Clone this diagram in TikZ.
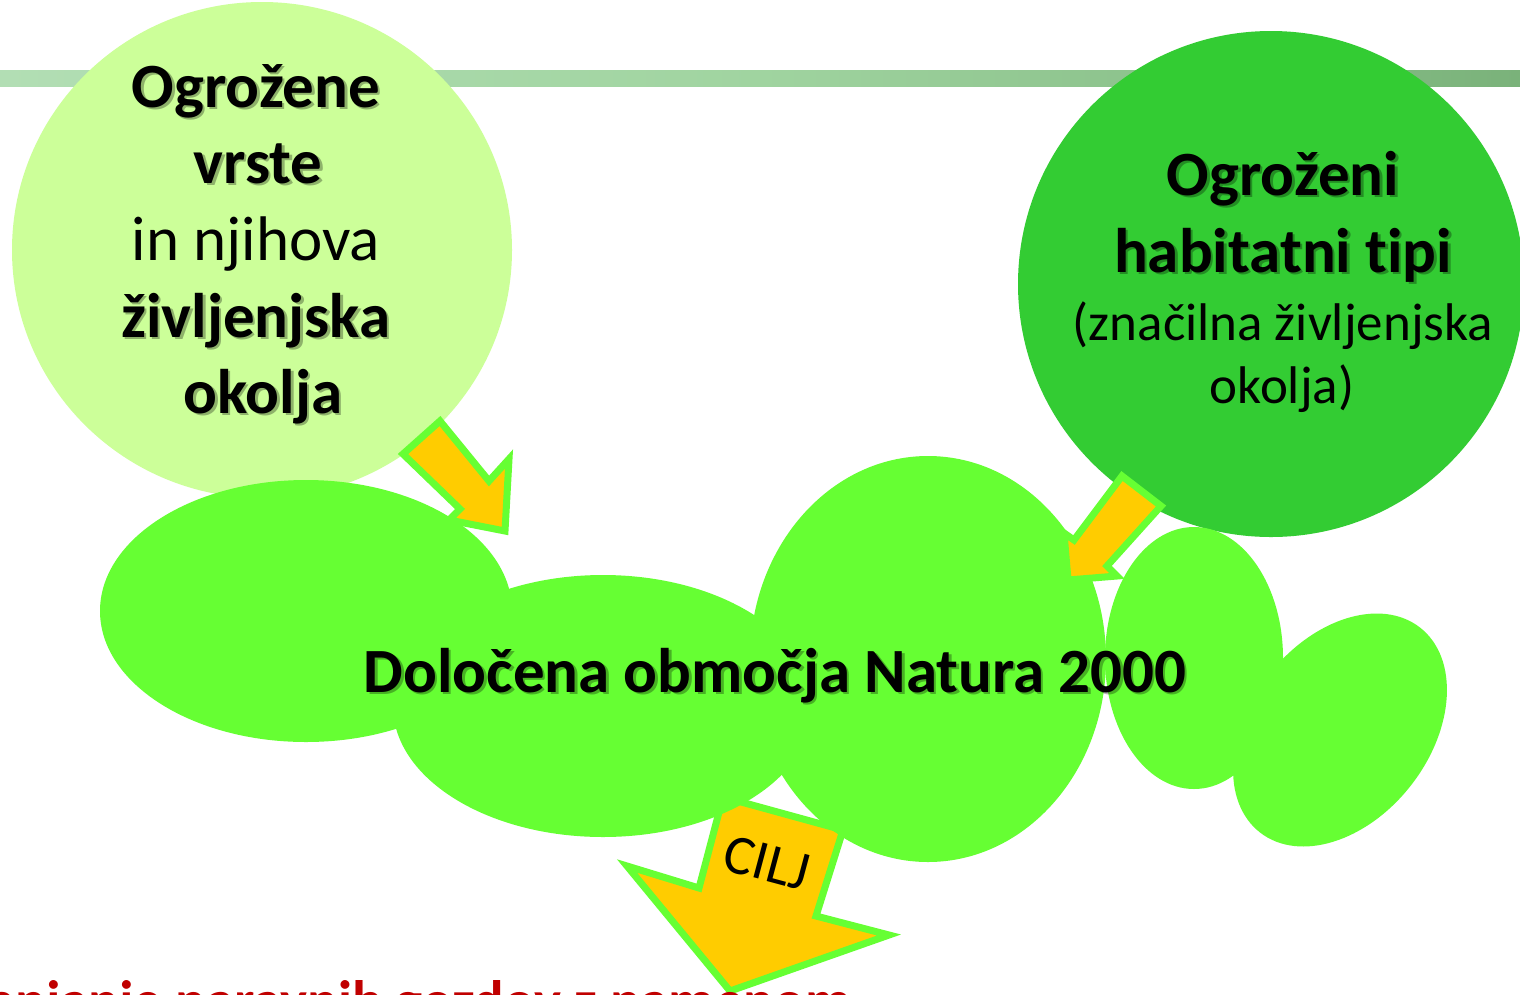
\documentclass[tikz,border=0pt]{standalone}
\usepackage{fontspec}
\setmainfont{Carlito}[Ligatures={NoCommon}]
\definecolor{lightC}{HTML}{CCFF99}
\definecolor{darkC}{HTML}{33CC33}
\definecolor{ellG}{HTML}{66FF33}
\definecolor{arrY}{HTML}{FFCC00}
\definecolor{redT}{HTML}{C00000}
\definecolor{bandL}{RGB}{178,222,180}
\definecolor{bandM}{RGB}{160,212,160}
\definecolor{bandR}{RGB}{122,178,122}
\tikzset{
  blob/.style={fill=ellG},
  blockarrow/.style={fill=arrY, draw=ellG, line width=7pt, line join=miter},
  boldtxt/.style={inner sep=0pt, anchor=base, font=\bfseries\fontsize{63}{75}\selectfont},
  regtxt/.style={inner sep=0pt, anchor=base, font=\fontsize{63}{75}\selectfont},
  smalltxt/.style={inner sep=0pt, anchor=base, font=\fontsize{53}{63}\selectfont},
  shadowtxt/.style={text=black, opacity=0.3},
}
\newcommand\shlabel[4]{%
  \node[boldtxt,shadowtxt] (#1-sh) at (#2+2.5,#3-2.5) {#4};
  \node[boldtxt] (#1) at (#2,#3) {#4};}
\begin{document}
\begin{tikzpicture}[x=1pt,y=1pt]
\useasboundingbox (0,0) rectangle (1520,-994);
\clip (0,0) rectangle (1520,-994);
\fill[white] (0,0) rectangle (1520,-994);
% top band
\shade[left color=bandL, right color=bandR, middle color=bandM] (0,-70) rectangle (1520,-86);
% circles
\fill[lightC] (262,-250) ellipse [x radius=250, y radius=248];
\fill[darkC] (1271,-284) circle [radius=253];
% CILJ arrow (behind the blobs)
\draw[blockarrow] (723,-797) -- (843,-830) -- (816,-916) -- (889,-935) -- (730,-991)
   -- (627,-866) -- (699,-888) -- cycle;
% blobs
\fill[blob] (306,-611) ellipse [x radius=206, y radius=131];
\fill[blob] (603,-706) ellipse [x radius=210, y radius=131];
\fill[blob] (928,-659) ellipse [x radius=178, y radius=203];
\fill[blob] (1194,-658) ellipse [x radius=89, y radius=131];
\fill[blob, rotate around={52:(1340,-730)}] (1340,-730) ellipse [x radius=130, y radius=90];
% arrows from circles
\draw[blockarrow] (403,-454) -- (440,-421) -- (489,-481) -- (509,-459) -- (505,-531)
   -- (449,-520) -- (460,-509) -- cycle;
\draw[blockarrow] (1122,-476) -- (1161,-506) -- (1107,-566) -- (1117,-576) -- (1068,-580)
   -- (1064,-533) -- (1074,-540) -- cycle;
% texts, left circle
\shlabel{l1}{256}{-107}{Ogrožene}
\shlabel{l2}{258}{-183}{vrste}
\node[regtxt] (l3) at (256,-260) {in njihova};
\shlabel{l4}{256}{-337}{življenjska}
\shlabel{l5}{263}{-413}{okolja}
% texts, right circle
\shlabel{r1}{1283}{-195}{Ogroženi}
\shlabel{r2}{1283}{-272}{habitatni t\kern0pt ipi}
\node[smalltxt] (r3) at (1283,-340) {(značilna življenjska};
\node[smalltxt] (r4) at (1282,-403) {okolja)};
% centre
\shlabel{mid}{775}{-692}{Določena območja Natura 2000}
% CILJ
\node[inner sep=0pt, font=\fontsize{56}{66}\selectfont, rotate=-15] (cilj) at (767,-863) {CILJ};
% bottom red text
\node[inner sep=0pt, anchor=base west, text=redT, font=\bfseries\fontsize{57}{68}\selectfont] (goal) at (-101,-1020) {Ohranjanje naravnih gozdov z namenom};
\end{tikzpicture}
\end{document}
